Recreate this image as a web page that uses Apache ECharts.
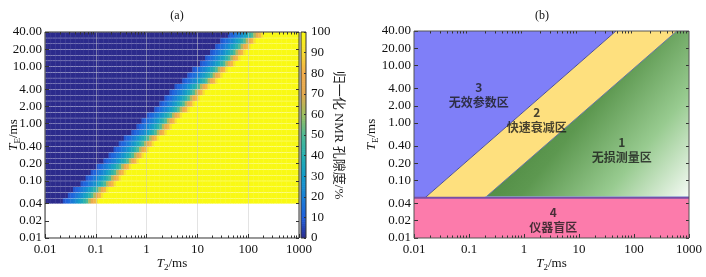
<!DOCTYPE html>
<html>
<head>
<meta charset="utf-8">
<script src="https://cdn.jsdelivr.net/npm/echarts@6/dist/echarts.min.js"></script>
<style>
  html, body { margin: 0; padding: 0; background: #fff; }
  #chart { width: 706px; height: 277px; }
</style>
</head>
<body>
<div id="chart"></div>
<script>
// 刻度
var t2Ticks = [0.01, 0.1, 1, 10, 100, 1000];
var teTicks = [0.01, 0.02, 0.04, 0.1, 0.2, 0.4, 1, 2, 4, 10, 20, 40];

// (a) 热图：TE 行边界 (ms)
var teRowEdges = [0.04, 0.05, 0.063, 0.079, 0.1, 0.126, 0.158, 0.2, 0.25, 0.316, 0.4, 0.5, 0.63, 0.79, 1.0,
  1.26, 1.58, 2.0, 2.5, 3.16, 4.0, 5.0, 6.3, 7.9, 10, 12.6, 15.8, 20, 25, 31.6, 40];
// 每行过渡带中心（约 50%）处的 T2 (ms)
var bandCenterT2 = [0.067, 0.087, 0.11, 0.15, 0.19, 0.24, 0.31, 0.40, 0.52, 0.67, 0.87, 1.1, 1.45, 1.9, 2.4,
  3.1, 4.0, 5.2, 6.8, 8.8, 11, 15, 19, 24, 32, 41, 53, 68, 88, 114];
// 过渡带剖面：相对中心的 lg(T2) 偏移 与 归一化孔隙度 %
var profileOffset = [-0.5, -0.45, -0.4, -0.35, -0.3, -0.25, -0.2, -0.15, -0.1, -0.05, 0, 0.05, 0.1, 0.15, 0.2, 0.25];
var profileValue = [0, 8, 11, 14, 18, 21, 26, 31, 36, 42, 50, 63, 74, 82, 92, 100];

// (b) 分区边界，[T2, TE] (ms)
var zoneBlue = [[0.01, 0.05], [0.0158, 0.05], [47, 40], [0.01, 40]];
var zoneYellow = [[0.0158, 0.05], [0.195, 0.05], [600, 40], [47, 40]];
var zoneGreen = [[0.195, 0.05], [1000, 0.05], [1000, 40], [600, 40]];
var zonePink = [[0.01, 0.01], [1000, 0.01], [1000, 0.05], [0.01, 0.05]];
var zoneNames = ['1\n无损测量区', '2\n快速衰减区', '3\n无效参数区', '4\n仪器盲区'];
var zoneT2 = [60, 1.7, 0.15, 3.4];
var zoneTE = [0.34, 1.14, 3.1, 0.0205];

var lg = Math.log10;
var serif = "'Liberation Serif', 'Noto Sans CJK SC'";
var txt = '#111';

function lookup(off) {
  var best = 0;
  for (var i = 1; i < profileOffset.length; i++) {
    if (Math.abs(off - profileOffset[i]) < Math.abs(off - profileOffset[best])) best = i;
  }
  return profileValue[best];
}

var heatData = [];
for (var r = 0; r < bandCenterT2.length; r++) {
  var y0 = lg(teRowEdges[r]), y1 = lg(teRowEdges[r + 1]), c = lg(bandCenterT2[r]);
  for (var i = 0; i < 100; i++) {
    var x0 = -2 + i * 0.05, x1 = x0 + 0.05;
    heatData.push([x0, x1, y0, y1, lookup((x0 + x1) / 2 - c)]);
  }
}
var barData = [];
for (var v = 0; v < 100; v++) barData.push([0, 1, v, v + 1, v + 0.5]);

var minorT2 = [];
for (var d = -2; d < 3; d++) {
  for (var m = 2; m < 10; m++) minorT2.push(lg(m * Math.pow(10, d)));
}
var majorT2 = t2Ticks.map(lg);
var majorTE = teTicks.map(lg);

function fmtT2(v) { return String(+Math.pow(10, v).toPrecision(3)); }
function fmtTE(v) { return Math.pow(10, v).toFixed(2); }

var labelStyle = { color: txt, fontFamily: serif, fontSize: 13 };
var nameRich = {
  i: { fontFamily: serif, fontStyle: 'italic', fontSize: 13, color: txt },
  s: { fontFamily: serif, fontSize: 9, color: txt, padding: [7, 0, 0, 0] },
  n: { fontFamily: serif, fontSize: 13, color: txt }
};
var noLine = { show: false, onZero: false };

function xMain(grid, showSplit) {
  return {
    type: 'value', gridIndex: grid, min: -2, max: 3, interval: 1, position: 'bottom', z: 5,
    name: '{i|T}{s|2}{n|/ms}', nameLocation: 'middle', nameGap: 18, nameMoveOverlap: false,
    nameTextStyle: { rich: nameRich },
    axisLine: noLine,
    axisTick: { inside: true, length: 4, customValues: majorT2, lineStyle: { color: '#333' } },
    axisLabel: Object.assign({ margin: 5, customValues: majorT2, formatter: fmtT2 }, labelStyle),
    splitLine: { show: showSplit, lineStyle: { color: 'rgba(200,200,200,0.5)', width: 1 } }
  };
}
function xMinor(grid, pos) {
  return {
    type: 'value', gridIndex: grid, min: -2, max: 3, position: pos, z: 5,
    axisLine: noLine,
    axisTick: { inside: true, length: 2.5, customValues: minorT2, lineStyle: { color: '#333' } },
    axisLabel: { show: false }, splitLine: { show: false }
  };
}
function yMain(grid, gap) {
  return {
    type: 'value', gridIndex: grid, min: -2, max: lg(40), position: 'left', z: 5,
    name: '{i|T}{s|E}{n|/ms}', nameLocation: 'middle', nameGap: gap, nameRotate: 90, nameMoveOverlap: false,
    nameTextStyle: { rich: nameRich },
    axisLine: noLine,
    axisTick: { inside: true, length: 4, customValues: majorTE, lineStyle: { color: '#333' } },
    axisLabel: Object.assign({ margin: 3, customValues: majorTE, formatter: fmtTE }, labelStyle),
    splitLine: { show: false }
  };
}
function yRight(grid) {
  return {
    type: 'value', gridIndex: grid, min: -2, max: lg(40), position: 'right', z: 5,
    axisLine: noLine,
    axisTick: { inside: true, length: 3, customValues: majorTE, lineStyle: { color: '#333' } },
    axisLabel: { show: false }, splitLine: { show: false }
  };
}

function renderCell(params, api) {
  var lt = api.coord([api.value(0), api.value(3)]);
  var rb = api.coord([api.value(1), api.value(2)]);
  return {
    type: 'rect',
    shape: { x: lt[0], y: lt[1] + 0.35, width: rb[0] - lt[0] + 0.4, height: rb[1] - lt[1] - 0.35 },
    style: { fill: api.visual('color') }
  };
}
function renderBar(params, api) {
  var lt = api.coord([api.value(0), api.value(3)]);
  var rb = api.coord([api.value(1), api.value(2)]);
  return {
    type: 'rect',
    shape: { x: lt[0], y: lt[1] - 0.3, width: rb[0] - lt[0], height: rb[1] - lt[1] + 0.6 },
    style: { fill: api.visual('color') }
  };
}

var zones = [zonePink, zoneBlue, zoneYellow, zoneGreen];
var zoneFill = ['#fc7bab', '#7f7ff8', '#fee07e', {
  type: 'linear', x: 0, y: 0, x2: 1, y2: 1,
  colorStops: [
    { offset: 0, color: '#2f6a22' },
    { offset: 0.5, color: '#5d9850' },
    { offset: 0.75, color: '#98cb90' },
    { offset: 1, color: '#f6fbf6' }
  ]
}];
function renderZone(params, api) {
  var pts = zones[params.dataIndex].map(function (p) { return api.coord([lg(p[0]), lg(p[1])]); });
  return { type: 'polygon', shape: { points: pts }, style: { fill: zoneFill[params.dataIndex] } };
}

function boundary(a, b, color, width) {
  return {
    type: 'line', xAxisIndex: 4, yAxisIndex: 3, symbol: 'none', silent: true, z: 3,
    data: [[lg(a[0]), lg(a[1])], [lg(b[0]), lg(b[1])]],
    lineStyle: { color: color, width: width }
  };
}

var myChart = echarts.init(document.getElementById('chart'));

var option = {
  backgroundColor: '#fff',
  animation: false,
  title: [
    { text: '(a)', left: 172, top: 5, textAlign: 'center', textStyle: { fontFamily: serif, fontWeight: 'normal', fontSize: 12, color: txt } },
    { text: '(b)', left: 537, top: 5, textAlign: 'center', textStyle: { fontFamily: serif, fontWeight: 'normal', fontSize: 12, color: txt } }
  ],
  grid: [
    { left: 45, top: 32, width: 254, height: 206, show: true, z: 10, backgroundColor: 'transparent', borderColor: '#333', borderWidth: 1 },
    { left: 301, top: 32, width: 5, height: 206, show: true, z: 10, backgroundColor: 'transparent', borderColor: '#333', borderWidth: 1 },
    { left: 414, top: 31, width: 275, height: 210, show: true, z: 10, backgroundColor: 'transparent', borderColor: '#555', borderWidth: 1 }
  ],
  visualMap: {
    type: 'continuous', show: false, min: 0, max: 100, dimension: 4, seriesIndex: [0, 1],
    inRange: { color: ['#2c2b8c', '#1f5fdc', '#1a80d6', '#139bc9', '#24afb0', '#4fb995', '#9bbf5e', '#e3a94f', '#f2ad4c', '#f7dc30', '#f9f914'] }
  },
  xAxis: [
    xMain(0, true),
    xMinor(0, 'bottom'),
    xMinor(0, 'top'),
    { type: 'value', gridIndex: 1, min: 0, max: 1, show: false },
    xMain(2, false),
    xMinor(2, 'bottom'),
    xMinor(2, 'top')
  ],
  yAxis: [
    yMain(0, 23),
    yRight(0),
    {
      type: 'value', gridIndex: 1, min: 0, max: 100, interval: 10, position: 'right', z: 5,
      name: '归一化 NMR 孔隙度/%', nameLocation: 'middle', nameGap: 26, nameRotate: -90, nameMoveOverlap: false,
      nameTextStyle: { fontFamily: serif, fontSize: 13, color: '#222' },
      axisLine: noLine,
      axisTick: { inside: true, length: 2, lineStyle: { color: '#333' } },
      axisLabel: Object.assign({ margin: 5 }, labelStyle),
      splitLine: { show: false }
    },
    yMain(2, 34),
    yRight(2)
  ],
  series: [
    {
      type: 'custom', name: 'heat', xAxisIndex: 0, yAxisIndex: 0, clip: true,
      renderItem: renderCell, encode: { x: [0, 1], y: [2, 3] }, data: heatData
    },
    {
      type: 'custom', name: 'colorbar', xAxisIndex: 3, yAxisIndex: 2, clip: true,
      renderItem: renderBar, encode: { x: [0, 1], y: [2, 3] }, data: barData
    },
    {
      type: 'custom', name: 'zones', xAxisIndex: 4, yAxisIndex: 3, clip: true,
      renderItem: renderZone, encode: { x: 0, y: 1 }, data: [[0, 0], [0, 0], [0, 0], [0, 0]]
    },
    boundary(zoneBlue[1], zoneBlue[2], '#4b4f9c', 1),
    boundary(zoneYellow[1], zoneYellow[2], '#6a76a0', 1),
    boundary([0.195, 0.052], [1000, 0.052], '#9cc2ea', 1),
    boundary([0.01, 0.05], [1000, 0.05], '#7a4fa6', 2),
    {
      type: 'scatter', xAxisIndex: 4, yAxisIndex: 3, symbolSize: 0, silent: true, z: 4,
      data: zoneT2.map(function (t, k) { return [lg(t), lg(zoneTE[k])]; }),
      label: {
        show: true, position: 'inside',
        formatter: function (p) { return zoneNames[p.dataIndex]; },
        fontFamily: "'Noto Sans CJK SC'", fontWeight: 'bold', fontSize: 12, lineHeight: 15, color: '#1a1a1a'
      }
    }
  ]
};

myChart.setOption(option);
</script>
</body>
</html>
